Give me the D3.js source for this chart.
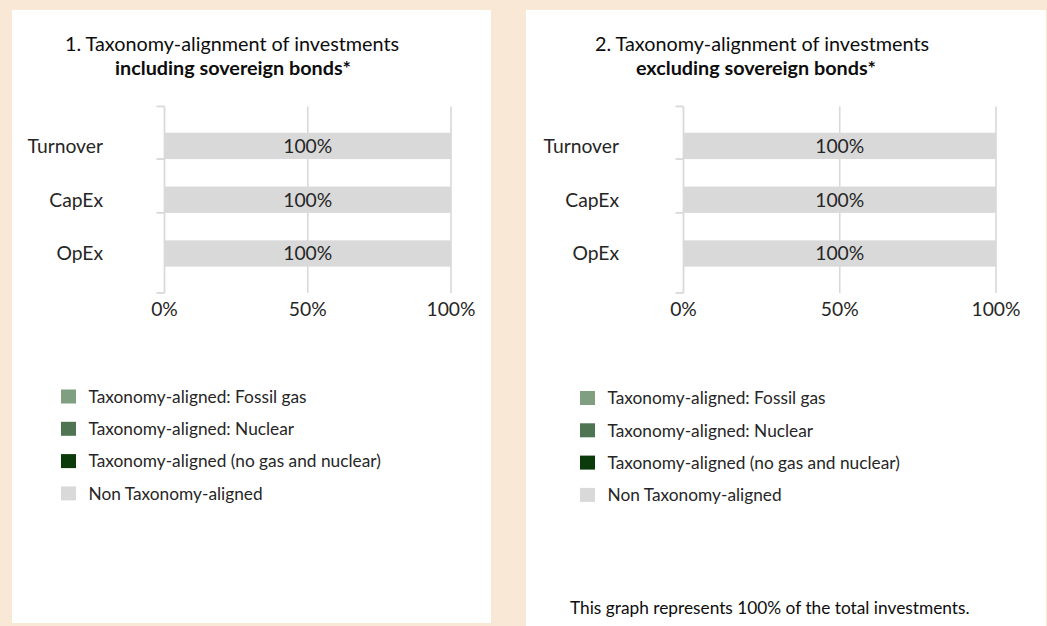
<!DOCTYPE html>
<html>
<head>
<meta charset="utf-8">
<script src="https://cdn.jsdelivr.net/npm/d3@7"></script>
<style>
  html, body { margin: 0; padding: 0; background: #FAE8D7; }
  svg { display: block; }
  text { font-family: Lato, "Open Sans", sans-serif; }
</style>
</head>
<body>
<svg id="chart" width="1047" height="626"></svg>
<script>
// ---------- data ----------
const categories = ["Turnover", "CapEx", "OpEx"];
const seriesNames = [
  "Taxonomy-aligned: Fossil gas",
  "Taxonomy-aligned: Nuclear",
  "Taxonomy-aligned (no gas and nuclear)",
  "Non Taxonomy-aligned"
];
const seriesColors = ["#7F9F80", "#4E7451", "#0B3B0B", "#D9D9D9"];

// chart 1: including sovereign bonds
const incFossilGas = [0, 0, 0];
const incNuclear = [0, 0, 0];
const incAligned = [0, 0, 0];
const incNonAligned = [100, 100, 100];

// chart 2: excluding sovereign bonds
const excFossilGas = [0, 0, 0];
const excNuclear = [0, 0, 0];
const excAligned = [0, 0, 0];
const excNonAligned = [100, 100, 100];

const xTickValues = [0, 50, 100];
const titleLine1 = ["1. Taxonomy-alignment of investments", "2. Taxonomy-alignment of investments"];
const titleLine2 = ["including sovereign bonds*", "excluding sovereign bonds*"];
const footnote = "This graph represents 100% of the total investments.";

// ---------- layout ----------
const svg = d3.select("#chart");
const panels = [
  { px: 12, py: 10, pw: 479, ph: 613, x0: 164.5, x1: 451, labelX: 103, t1x: 232, t2x: 233,
    legX: 61, legY: 389.5, series: [incFossilGas, incNuclear, incAligned, incNonAligned] },
  { px: 526, py: 10, pw: 520, ph: 616, x0: 683.5, x1: 996, labelX: 619, t1x: 762, t2x: 756,
    legX: 580, legY: 391, series: [excFossilGas, excNuclear, excAligned, excNonAligned] }
];

const y = d3.scaleBand().domain(categories).range([119, 280.4]).paddingInner(0.511).paddingOuter(0.2555);
const bw = y.bandwidth();
const axisTop = y(categories[0]) - bw;
const axisBottom = y(categories[categories.length - 1]) + 2 * bw;
const gridColor = "#D9D9D9";
const textColor = "#262626";
const titleSize = 19.8, axisSize = 19.3, legendSize = 17.3;

panels.forEach((p, pi) => {
  const g = svg.append("g");
  g.append("rect").attr("x", p.px).attr("y", p.py).attr("width", p.pw).attr("height", p.ph).attr("fill", "#fff");

  // titles
  g.append("text").attr("x", p.t1x).attr("y", 51).attr("text-anchor", "middle")
    .attr("font-size", titleSize).attr("fill", "#0d0d0d").text(titleLine1[pi]);
  g.append("text").attr("x", p.t2x).attr("y", 75).attr("text-anchor", "middle")
    .attr("font-size", titleSize).attr("font-weight", "bold").attr("fill", "#0d0d0d").text(titleLine2[pi]);

  const x = d3.scaleLinear().domain([0, 100]).range([p.x0, p.x1]);

  // gridlines
  g.selectAll(".grid").data(xTickValues.filter(d => d > 0)).join("line")
    .attr("x1", d => x(d)).attr("x2", d => x(d))
    .attr("y1", axisTop).attr("y2", axisBottom)
    .attr("stroke", gridColor).attr("stroke-width", 1.6);

  // stacked bars
  const rows = categories.map((c, i) => {
    const o = { cat: c };
    seriesNames.forEach((s, si) => o[s] = p.series[si][i]);
    return o;
  });
  const stacked = d3.stack().keys(seriesNames)(rows);
  stacked.forEach((layer, li) => {
    g.selectAll(null).data(layer.filter(d => d[1] - d[0] > 0)).join("rect")
      .attr("x", d => x(d[0])).attr("width", d => x(d[1]) - x(d[0]))
      .attr("y", d => y(d.data.cat)).attr("height", bw)
      .attr("fill", seriesColors[li]);
    g.selectAll(null).data(layer.filter(d => d[1] - d[0] > 0)).join("text")
      .attr("x", d => x((d[0] + d[1]) / 2)).attr("y", d => y(d.data.cat) + bw / 2 + 6.8)
      .attr("text-anchor", "middle").attr("font-size", axisSize).attr("fill", textColor)
      .text(d => (d[1] - d[0]) + "%");
  });

  // y axis line + ticks
  g.append("line").attr("x1", x(0)).attr("x2", x(0)).attr("y1", axisTop).attr("y2", axisBottom)
    .attr("stroke", gridColor).attr("stroke-width", 1.8);
  const tickYs = [axisTop].concat(categories.slice(0, -1).map(c => y(c) + bw)).concat([axisBottom]);
  g.selectAll(".ytick").data(tickYs).join("line")
    .attr("x1", x(0) - 8).attr("x2", x(0)).attr("y1", d => d).attr("y2", d => d)
    .attr("stroke", gridColor).attr("stroke-width", 1.8);

  // category labels
  g.selectAll(".ylab").data(categories).join("text")
    .attr("x", p.labelX).attr("y", d => y(d) + bw / 2 + 6.8)
    .attr("text-anchor", "end").attr("font-size", axisSize).attr("fill", textColor).text(d => d);

  // x tick labels
  g.selectAll(".xlab").data(xTickValues).join("text")
    .attr("x", d => x(d)).attr("y", 316)
    .attr("text-anchor", "middle").attr("font-size", axisSize).attr("fill", textColor).text(d => d + "%");

  // legend
  seriesNames.forEach((s, si) => {
    const cy = p.legY + 7 + si * 32.3;
    g.append("rect").attr("x", p.legX).attr("y", cy - 7).attr("width", 15).attr("height", 14).attr("fill", seriesColors[si]);
    g.append("text").attr("x", p.legX + 27.5).attr("y", cy + 6.2)
      .attr("font-size", legendSize).attr("fill", textColor).text(s);
  });
});

svg.append("text").attr("x", 570).attr("y", 613.5).attr("font-size", legendSize).attr("fill", "#0d0d0d").text(footnote);
</script>
</body>
</html>
